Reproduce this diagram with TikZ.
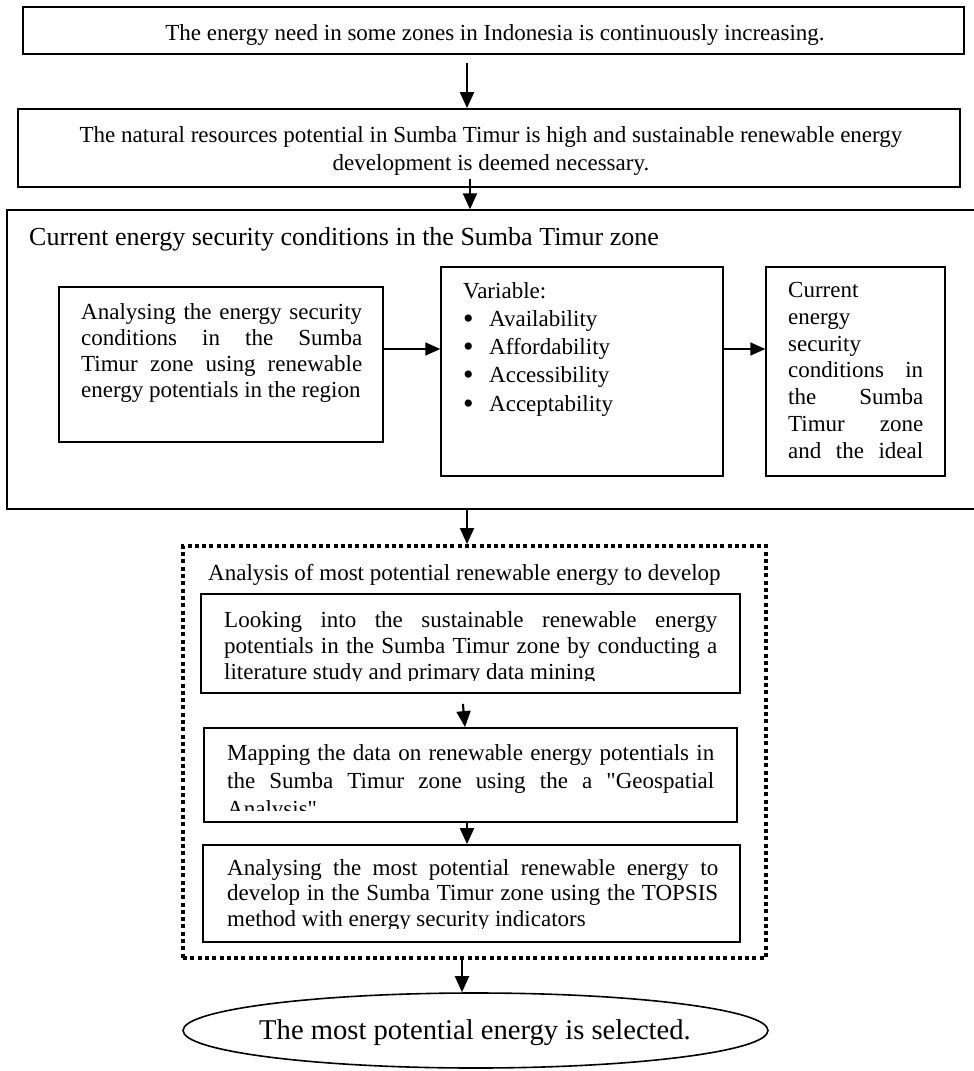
\documentclass[tikz,border=0pt]{standalone}
\usepackage{fontspec}
\setmainfont{Liberation Serif}[Ligatures=TeXOff]
\usetikzlibrary{arrows.meta,shapes.geometric}
\newcommand{\bulitem}{\makebox[26pt][l]{\raisebox{-2pt}{\fontsize{30}{26}\selectfont •}}}
\begin{document}
\begin{tikzpicture}[x=1pt,y=-1pt,
  frame/.style={draw=black,line width=1.8pt,inner sep=0pt},
  thinframe/.style={draw=black,line width=1.4pt,inner sep=0pt},
  ttxt/.style={inner sep=0pt,font=\fontsize{23}{26}\selectfont,align=left},
  varrow/.style={-{Triangle[length=16pt,width=14pt]},line width=2.1pt},
  harrow/.style={-{Triangle[length=15pt,width=13pt]},line width=1.6pt},
  dotbox/.style={draw=black,line width=4pt,dash pattern=on 4pt off 3.3pt,inner sep=0pt}]
\useasboundingbox (0,0) rectangle (974,1071);
\fill[white] (0,0) rectangle (974,1071);

% boxes
\node[frame,minimum width=941pt,minimum height=47pt] (b1) at (493.5,30.5) {};
\node[frame,minimum width=942pt,minimum height=78pt] (b2) at (489,148) {};
\node[draw=black,line width=1.3pt,inner sep=0pt,minimum width=990pt,minimum height=299pt] (big) at (502,359.5) {};
\node[thinframe,minimum width=324pt,minimum height=155pt] (ba) at (221,364.5) {};
\node[thinframe,minimum width=282pt,minimum height=209pt] (bb) at (582,371.5) {};
\node[thinframe,minimum width=179pt,minimum height=209pt] (bc) at (855.5,371.5) {};
\node[dotbox,minimum width=583pt,minimum height=412pt] (dot) at (474.5,752) {};
\node[frame,minimum width=539pt,minimum height=99pt] (l1) at (470.5,643.5) {};
\node[frame,minimum width=533pt,minimum height=94pt] (l2) at (470.5,775) {};
\node[frame,minimum width=537pt,minimum height=97pt] (l3) at (471.5,893.5) {};
\node[draw=black,line width=1.6pt,ellipse,inner sep=0pt,minimum width=585pt,minimum height=75pt] (fin) at (475.5,1030.5) {};

% texts (anchor base = baseline of the last line)
\node[ttxt,anchor=base] (t1) at (495,40) {The energy need in some zones in Indonesia is continuously increasing.};
\node[ttxt,align=center,font=\fontsize{23}{28}\selectfont,anchor=base] (t2) at (491,170) {The natural resources potential in Sumba Timur is high and sustainable renewable energy\\development is deemed necessary.};
\node[inner sep=0pt,font=\fontsize{26}{30}\selectfont,anchor=base west] (t3) at (29,245) {Current energy security conditions in the Sumba Timur zone};
\node[ttxt,anchor=base west] (ta) at (81,397) {\makebox[281pt][s]{Analysing the energy security}\\\makebox[281pt][s]{conditions in the Sumba}\\\makebox[281pt][s]{Timur zone using renewable}\\energy potentials in the region};
\node[ttxt,font=\fontsize{23}{28.3}\selectfont,anchor=base west] (tb) at (463,411.2) {Variable:\\\bulitem Availability\\\bulitem Affordability\\\bulitem Accessibility\\\bulitem Acceptability};
\node[ttxt,font=\fontsize{23}{26.67}\selectfont,anchor=base west] (tc) at (788,458) {Current\\energy\\security\\\makebox[135pt][s]{conditions in}\\\makebox[135pt][s]{the Sumba}\\\makebox[135pt][s]{Timur zone}\\\makebox[135pt][s]{and the ideal}};
\node[inner sep=0pt,font=\fontsize{23}{26}\selectfont,anchor=base west] (td) at (208,580) {Analysis of most potential renewable energy to develop};

\begin{scope}
\clip (201,594) rectangle (740,680);
\node[ttxt,anchor=base west] (tl1) at (224,679) {\makebox[493pt][s]{Looking into the sustainable renewable energy}\\\makebox[493pt][s]{potentials in the Sumba Timur zone by conducting a}\\literature study and primary data mining};
\end{scope}
\begin{scope}
\clip (204,728) rectangle (737,810);
\node[ttxt,font=\fontsize{23}{28}\selectfont,anchor=base west] (tl2) at (227,816) {\makebox[487pt][s]{Mapping the data on renewable energy potentials in}\\\makebox[487pt][s]{the Sumba Timur zone using the a "Geospatial}\\Analysis"};
\end{scope}
\begin{scope}
\clip (203,845) rectangle (740,928);
\node[ttxt,font=\fontsize{23}{25.5}\selectfont,anchor=base west] (tl3) at (227,926) {\makebox[491pt][s]{Analysing the most potential renewable energy to}\\\makebox[491pt][s]{develop in the Sumba Timur zone using the TOPSIS}\\method with energy security indicators};
\end{scope}
\node[inner sep=0pt,font=\fontsize{28.6}{34}\selectfont,anchor=base] (tf) at (475,1039) {The most potential energy is selected.};

% connectors
\coordinate (xa) at (467,0);
\coordinate (xb) at (470,0);
\coordinate (xc) at (462,0);
\coordinate (xd) at (465,0);
\coordinate (hy) at (0,349);
\draw[varrow,shorten <=8pt] (b1.south -| xa) -- (b2.north -| xa);
\draw[varrow,shorten <=-9pt] (b2.south -| xb) -- (big.north -| xb);
\draw[varrow] (big.south -| xa) -- (dot.north -| xa);
\draw[varrow,shorten <=10pt] (l1.south -| xc) -- (l2.north -| xd);
\draw[varrow] (l2.south -| xa) -- (l3.north -| xa);
\draw[varrow] (dot.south -| xc) -- (fin.north -| xc);
\draw[harrow] (ba.east |- hy) -- (bb.west |- hy);
\draw[harrow] (bb.east |- hy) -- (bc.west |- hy);
\end{tikzpicture}
\end{document}
